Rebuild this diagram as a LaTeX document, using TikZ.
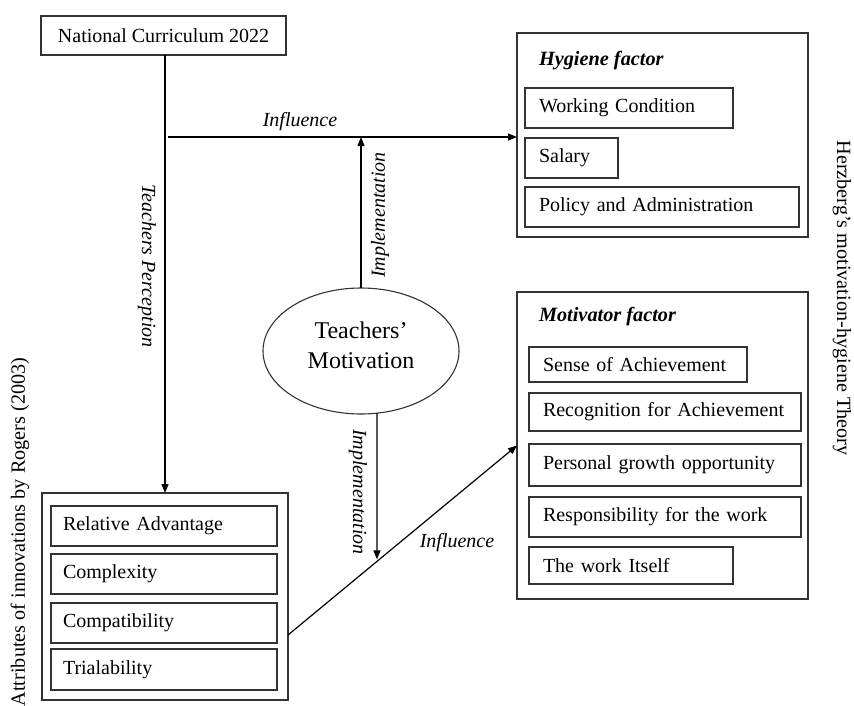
\documentclass[tikz,border=0pt]{standalone}
\usepackage{fontspec}
\setmainfont{Liberation Serif}
\usetikzlibrary{arrows.meta,shapes.geometric,calc}
\begin{document}
\begin{tikzpicture}[x=1pt,y=-1pt,
  every node/.style={font=\fontsize{20}{24}\selectfont, outer sep=0pt},
  boxline/.style={draw=black!80, line width=1.1pt},
  outerbox/.style={boxline, anchor=north west, inner sep=0pt},
  itembox/.style={boxline, anchor=north west, inner xsep=14pt, inner ysep=0pt, align=left},
  conn/.style={line width=1.2pt, -{Triangle[length=9pt,width=7pt]}},
  lab/.style={font=\fontsize{20}{24}\selectfont\itshape, inner sep=0pt},
  ttl/.style={font=\fontsize{20.3}{24}\selectfont\bfseries\itshape, anchor=west, inner sep=0pt},
  side/.style={font=\fontsize{20.2}{24}\selectfont, inner sep=0pt},
  ]
\useasboundingbox (0,0) rectangle (854,705);

% National Curriculum
\node[boxline, anchor=north west, minimum width=245pt, minimum height=39pt, inner sep=0pt] (nc) at (41,16) {National Curriculum 2022};

% Hygiene factor box
\node[outerbox, minimum width=291pt, minimum height=204pt] (hyg) at (517,33) {};
\node[ttl] (hygt) at (539,61) {Hygiene factor};
\node[itembox, text width=180pt, minimum height=40pt] (wc) at (525,88) {\mbox{Working Condition}};
\node[itembox, text width=65pt, minimum height=40pt] (sal) at (525,138) {\mbox{Salary}};
\node[itembox, text width=246pt, minimum height=40pt] (pol) at (525,187) {\mbox{Policy and Administration}};

% Motivator factor box
\node[outerbox, minimum width=291pt, minimum height=307pt] (mot) at (517,292) {};
\node[ttl] (mott) at (539,317) {Motivator factor};
\node[itembox, text width=190pt, minimum height=35pt] (soa) at (529,347) {\mbox{Sense of Achievement}};
\node[itembox, text width=244pt, minimum height=38pt] (rfa) at (529,393) {\mbox{Recognition for Achievement}};
\node[itembox, text width=244pt, minimum height=42pt] (pgo) at (529,444) {\mbox{Personal growth opportunity}};
\node[itembox, text width=244pt, minimum height=40pt] (rfw) at (529,497) {\mbox{Responsibility for the work}};
\node[itembox, text width=176pt, minimum height=37pt] (twi) at (529,547) {\mbox{The work Itself}};

% Rogers box
\node[outerbox, minimum width=246pt, minimum height=207pt] (rog) at (42,493) {};
\node[itembox, inner xsep=12pt, text width=202pt, minimum height=40pt] (ra) at (51,506) {\mbox{Relative Advantage}};
\node[itembox, inner xsep=12pt, text width=202pt, minimum height=40pt] (cx) at (51,554) {\mbox{Complexity}};
\node[itembox, inner xsep=12pt, text width=202pt, minimum height=40pt] (cp) at (51,603) {\mbox{Compatibility}};
\node[itembox, inner xsep=12pt, text width=202pt, minimum height=41pt] (tr) at (51,649) {\mbox{Trialability}};

% Teachers' Motivation
\node[ellipse, boxline, minimum width=196pt, minimum height=126pt, inner sep=0pt] (tm) at (361,351) {};
\node[align=center, font=\fontsize{24}{30}\selectfont, inner sep=0pt] (tmt) at (361,345) {Teachers’\\Motivation};

% Side titles
\node[side, rotate=-90] (herz) at (842,298) {Herzberg's motivation-hygiene Theory};
\node[side, rotate=90] (attr) at (20,532) {Attributes of innovations by Rogers (2003)};

% Connectors
\draw[conn] (rog.north |- nc.south) -- (rog.north);
\node[lab, rotate=-90] (tp) at (147,266) {Teachers Perception};

\coordinate (inf) at (168,137);
\draw[conn] (inf) -- (inf -| hyg.west);
\node[lab] (infl1) at (300,122) {Influence};

\draw[conn] (tm.north) -- (tm.north |- inf);
\node[lab, rotate=90] (imp1) at (380,215) {Implementation};

\coordinate (dg) at (288,635);
\draw[conn] (dg) -- (mot.west);
\node[lab] (infl2) at (457,543) {Influence};

\coordinate (d1) at ($(tm.center)+(16,62.2)$);
\coordinate (d2) at ($(dg)!0.3886!(mot.west)$);
\draw[conn, shorten >=2pt] (d1) -- (d2);
\node[lab, rotate=-90] (imp2) at (358,492) {Implementation};
\end{tikzpicture}
\end{document}
